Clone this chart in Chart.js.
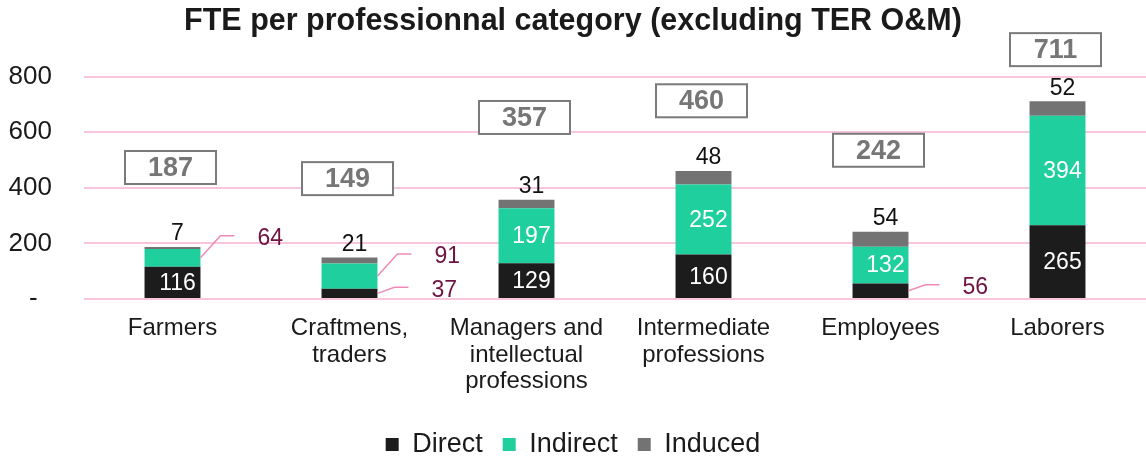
<!DOCTYPE html>
<html>
<head>
<meta charset="utf-8">
<script src="https://cdn.jsdelivr.net/npm/chart.js@4.4.1/dist/chart.umd.min.js"></script>
<style>
    html, body { margin: 0; padding: 0; background: #fff; }
    #wrap { width: 1146px; height: 457px; }
</style>
</head>
<body>
<div id="wrap"><canvas id="fteChart"></canvas></div>
<script>
// Data
const categories = [
    ['Farmers'],
    ['Craftmens,', 'traders'],
    ['Managers and', 'intellectual', 'professions'],
    ['Intermediate', 'professions'],
    ['Employees'],
    ['Laborers']
];
const direct = [116, 37, 129, 160, 56, 265];
const indirect = [64, 91, 197, 252, 132, 394];
const induced = [7, 21, 31, 48, 54, 52];
// height (in FTE) at which each total box sits
const totalBoxAt = [473, 433, 653, 713, 535, 897];
const yTicks = [0, 200, 400, 600, 800];

const FONT = "'Liberation Sans', Arial, sans-serif";

// Segment values, callouts, induced values and total boxes
const labelPlugin = {
    id: 'fteLabels',
    afterDatasetsDraw(chart) {
        const ctx = chart.ctx;
        const yScale = chart.scales.y;
        ctx.save();
        ctx.textBaseline = 'middle';

        [0, 1].forEach(di => {
            const meta = chart.getDatasetMeta(di);
            meta.data.forEach((bar, i) => {
                const p = bar.getProps(['x', 'y', 'base', 'width'], true);
                const val = chart.data.datasets[di].data[i];
                const top = Math.min(p.y, p.base);
                const bottom = Math.max(p.y, p.base);
                const mid = (top + bottom) / 2;
                if (bottom - top > 30) {
                    ctx.font = '23px ' + FONT;
                    ctx.fillStyle = '#ffffff';
                    ctx.textAlign = 'center';
                    ctx.fillText(val, p.x + 5, mid + 1);
                } else {
                    // too thin: leader line out to the right
                    const x0 = p.x + p.width / 2;
                    const dx = di === 1 ? 20 : 17;
                    const dy = di === 1 ? -22 : -6;
                    ctx.strokeStyle = '#f08ab8';
                    ctx.lineWidth = 1.5;
                    ctx.beginPath();
                    ctx.moveTo(x0, mid);
                    ctx.lineTo(x0 + dx, mid + dy);
                    ctx.lineTo(x0 + dx + 14, mid + dy);
                    ctx.stroke();
                    ctx.font = '23px ' + FONT;
                    ctx.fillStyle = '#6e1442';
                    ctx.textAlign = 'left';
                    ctx.fillText(val, x0 + dx + 14 + 23, mid + dy + 3);
                }
            });
        });

        // induced on top of the bar
        const indMeta = chart.getDatasetMeta(2);
        indMeta.data.forEach((bar, i) => {
            const p = bar.getProps(['x', 'y'], true);
            ctx.font = '23px ' + FONT;
            ctx.fillStyle = '#111111';
            ctx.textAlign = 'center';
            ctx.fillText(induced[i], p.x + 5, p.y - 13);
        });

        // total boxes
        categories.forEach((c, i) => {
            const total = direct[i] + indirect[i] + induced[i];
            const cx = chart.scales.x.getPixelForValue(i) - 2;
            const cy = yScale.getPixelForValue(totalBoxAt[i]);
            const w = 91, h = 33;
            ctx.fillStyle = '#ffffff';
            ctx.fillRect(cx - w / 2, cy - h / 2, w, h);
            ctx.strokeStyle = '#7a7a7a';
            ctx.lineWidth = 2;
            ctx.strokeRect(cx - w / 2, cy - h / 2, w, h);
            ctx.font = 'bold 27px ' + FONT;
            ctx.fillStyle = '#767676';
            ctx.textAlign = 'center';
            ctx.fillText(total, cx, cy + 1);
        });
        ctx.restore();
    }
};

const ctx = document.getElementById('fteChart').getContext('2d');
new Chart(ctx, {
    type: 'bar',
    data: {
        labels: categories,
        datasets: [
            { label: 'Direct', data: direct, backgroundColor: '#1c1c1c' },
            { label: 'Indirect', data: indirect, backgroundColor: '#20cf9e' },
            { label: 'Induced', data: induced, backgroundColor: '#737373' }
        ]
    },
    options: {
        responsive: true,
        maintainAspectRatio: false,
        animation: false,
        layout: { padding: { left: 0, right: 0, top: 0, bottom: -11 } },
        datasets: {
            bar: { barPercentage: 0.316, categoryPercentage: 1 }
        },
        plugins: {
            title: {
                display: true,
                text: 'FTE per professionnal category (excluding TER O&M)',
                color: '#1a1a1a',
                font: { family: FONT, size: 30.5, weight: 'bold' },
                padding: { top: 3, bottom: 37 }
            },
            legend: {
                position: 'bottom',
                labels: {
                    color: '#1a1a1a',
                    font: { family: FONT, size: 27 },
                    boxWidth: 13,
                    boxHeight: 13,
                    padding: 20
                }
            },
            tooltip: { enabled: false }
        },
        scales: {
            x: {
                stacked: true,
                grid: { display: false, drawTicks: false },
                border: { display: false },
                ticks: {
                    color: '#1a1a1a',
                    font: { family: FONT, size: 24, lineHeight: 1.11 },
                    padding: 16,
                    maxRotation: 0,
                    autoSkip: false
                },
                afterFit(scale) { scale.height = 112; }
            },
            y: {
                stacked: true,
                min: 0,
                max: 800,
                afterBuildTicks(scale) { scale.ticks = yTicks.map(v => ({ value: v })); },
                grid: { color: '#f7c6dc', lineWidth: 2, drawTicks: false },
                border: { display: false },
                ticks: {
                    color: '#1a1a1a',
                    font: { family: FONT, size: 26 },
                    padding: 32,
                    callback: v => (v === 0 ? '-  ' : v)
                },
                afterFit(scale) { scale.width = 84; }
            }
        }
    },
    plugins: [labelPlugin]
});
</script>
</body>
</html>
